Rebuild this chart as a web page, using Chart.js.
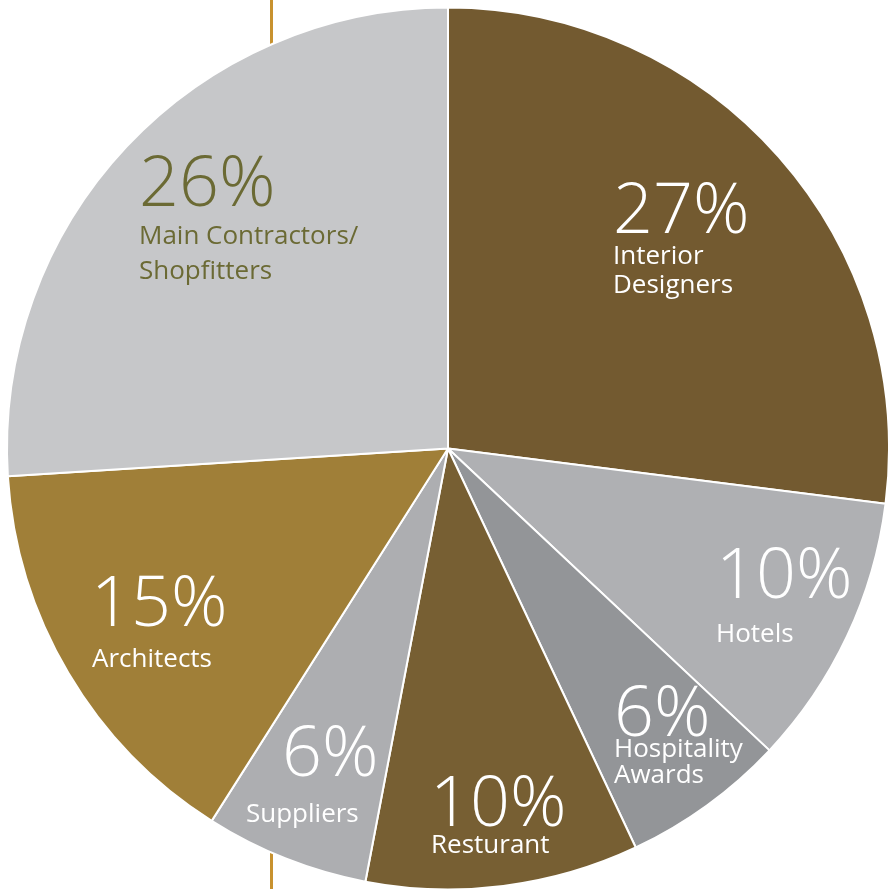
<!DOCTYPE html>
<html>
<head>
<meta charset="utf-8">
<script src="https://cdn.jsdelivr.net/npm/chart.js@4"></script>
<style>
  html, body { margin: 0; padding: 0; background: #fff; overflow: hidden; }
  canvas { display: block; }
</style>
</head>
<body>
<canvas id="sectors" width="896" height="897"></canvas>
<script>
const categories = ['Interior Designers', 'Hotels', 'Hospitality Awards', 'Resturant', 'Suppliers', 'Architects', 'Main Contractors/ Shopfitters'];
const shares = [27, 10, 6, 10, 6, 15, 26];
const labelLines = [
    ['Interior', 'Designers'],
    ['Hotels'],
    ['Hospitality', 'Awards'],
    ['Resturant'],
    ['Suppliers'],
    ['Architects'],
    ['Main Contractors/', 'Shopfitters']
];

const sliceColors = ['#735a30', '#afb0b3', '#939598', '#775f33', '#adaeb1', '#a07f38', '#c6c7c9'];
const textColors = ['#fff', '#fff', '#fff', '#fff', '#fff', '#fff', '#6b6a34'];

// where each label sits, relative to the pie centre (px at radius 441)
const labelPlace = [
    { pct: [165, -215.5], x: 165, ys: [-184.5, -155.5] },
    { pct: [268, 149.5], x: 268, ys: [193.5] },
    { pct: [166, 287.5], x: 166, ys: [308.5, 334.5] },
    { pct: [-18, 377.5], x: -17, ys: [404.5] },
    { pct: [-166, 327.5], x: -202, ys: [373.5] },
    { pct: [-357, 177.5], x: -356, ys: [218.5] },
    { pct: [-309, -242.5], x: -309, ys: [-204.5, -169.5] }
];

const goldLine = {
    id: 'goldLine',
    beforeDatasetsDraw(chart) {
        const ctx = chart.ctx;
        ctx.save();
        ctx.fillStyle = '#c8922f';
        ctx.fillRect(270, 0, 3, chart.height);
        ctx.restore();
    }
};

const sliceText = {
    id: 'sliceText',
    afterDatasetsDraw(chart) {
        const ctx = chart.ctx;
        const arcs = chart.getDatasetMeta(0).data;
        ctx.save();
        ctx.textAlign = 'left';
        ctx.textBaseline = 'alphabetic';
        arcs.forEach((arc, i) => {
            const k = arc.outerRadius / 441;
            const p = labelPlace[i];
            ctx.fillStyle = textColors[i];
            ctx.font = '300 70px "Open Sans"';
            ctx.fillText(shares[i] + '%', arc.x + p.pct[0] * k, arc.y + p.pct[1] * k);
            ctx.font = '400 26px "Open Sans"';
            labelLines[i].forEach((line, j) => {
                ctx.fillText(line, arc.x + p.x * k, arc.y + p.ys[j] * k);
            });
        });
        ctx.restore();
    }
};

const sectors = document.getElementById('sectors');

new Chart(sectors, {
    type: 'pie',
    data: {
        labels: categories,
        datasets: [{
            data: shares,
            backgroundColor: sliceColors,
            borderColor: '#ffffff',
            borderWidth: 2
        }]
    },
    options: {
        responsive: false,
        animation: false,
        devicePixelRatio: 1,
        layout: {
            padding: { left: 6, top: 6, right: 6, bottom: 6 }
        },
        plugins: {
            legend: { display: false },
            tooltip: { enabled: false }
        }
    },
    plugins: [goldLine, sliceText]
});
</script>
</body>
</html>
